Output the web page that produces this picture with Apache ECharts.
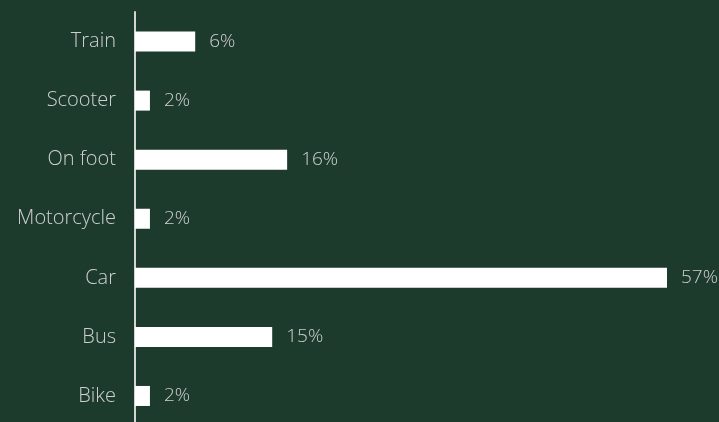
<!DOCTYPE html>
<html>
<head>
<meta charset="utf-8">
<script src="https://cdn.jsdelivr.net/npm/echarts@6/dist/echarts.min.js"></script>
<style>
html,body{margin:0;padding:0;background:#1c3b2c;overflow:hidden;}
#c{width:719px;height:427px;}
</style>
</head>
<body>
<div id="c"></div>
<script>
const categories = ["Train", "Scooter", "On foot", "Motorcycle", "Car", "Bus", "Bike"];
const values = [6.45, 1.6, 16.3, 1.6, 57, 14.7, 1.6];

const chart = echarts.init(document.getElementById('c'));
chart.setOption({
  backgroundColor: '#1c3b2c',
  animation: false,
  grid: { left: 135, top: 12, bottom: 1.5, right: 24, containLabel: false },
  xAxis: {
    type: 'value', min: 0, max: 60,
    show: false
  },
  yAxis: {
    type: 'category',
    data: categories,
    inverse: true,
    axisLine: { show: true, lineStyle: { color: '#d4d4d4', width: 2 } },
    axisTick: { show: false },
    axisLabel: {
      margin: 19,
      color: '#d0d0d0',
      fontFamily: 'Open Sans',
      fontWeight: 300,
      fontSize: 20
    }
  },
  series: [{
    type: 'bar',
    data: values,
    barWidth: 20,
    itemStyle: { color: '#ffffff' },
    label: {
      show: true,
      position: 'right',
      distance: 14,
      color: '#d0d0d0',
      fontFamily: 'Open Sans',
      fontWeight: 300,
      fontSize: 19,
      formatter: p => Math.round(p.value) + '%'
    }
  }]
});
</script>
</body>
</html>
